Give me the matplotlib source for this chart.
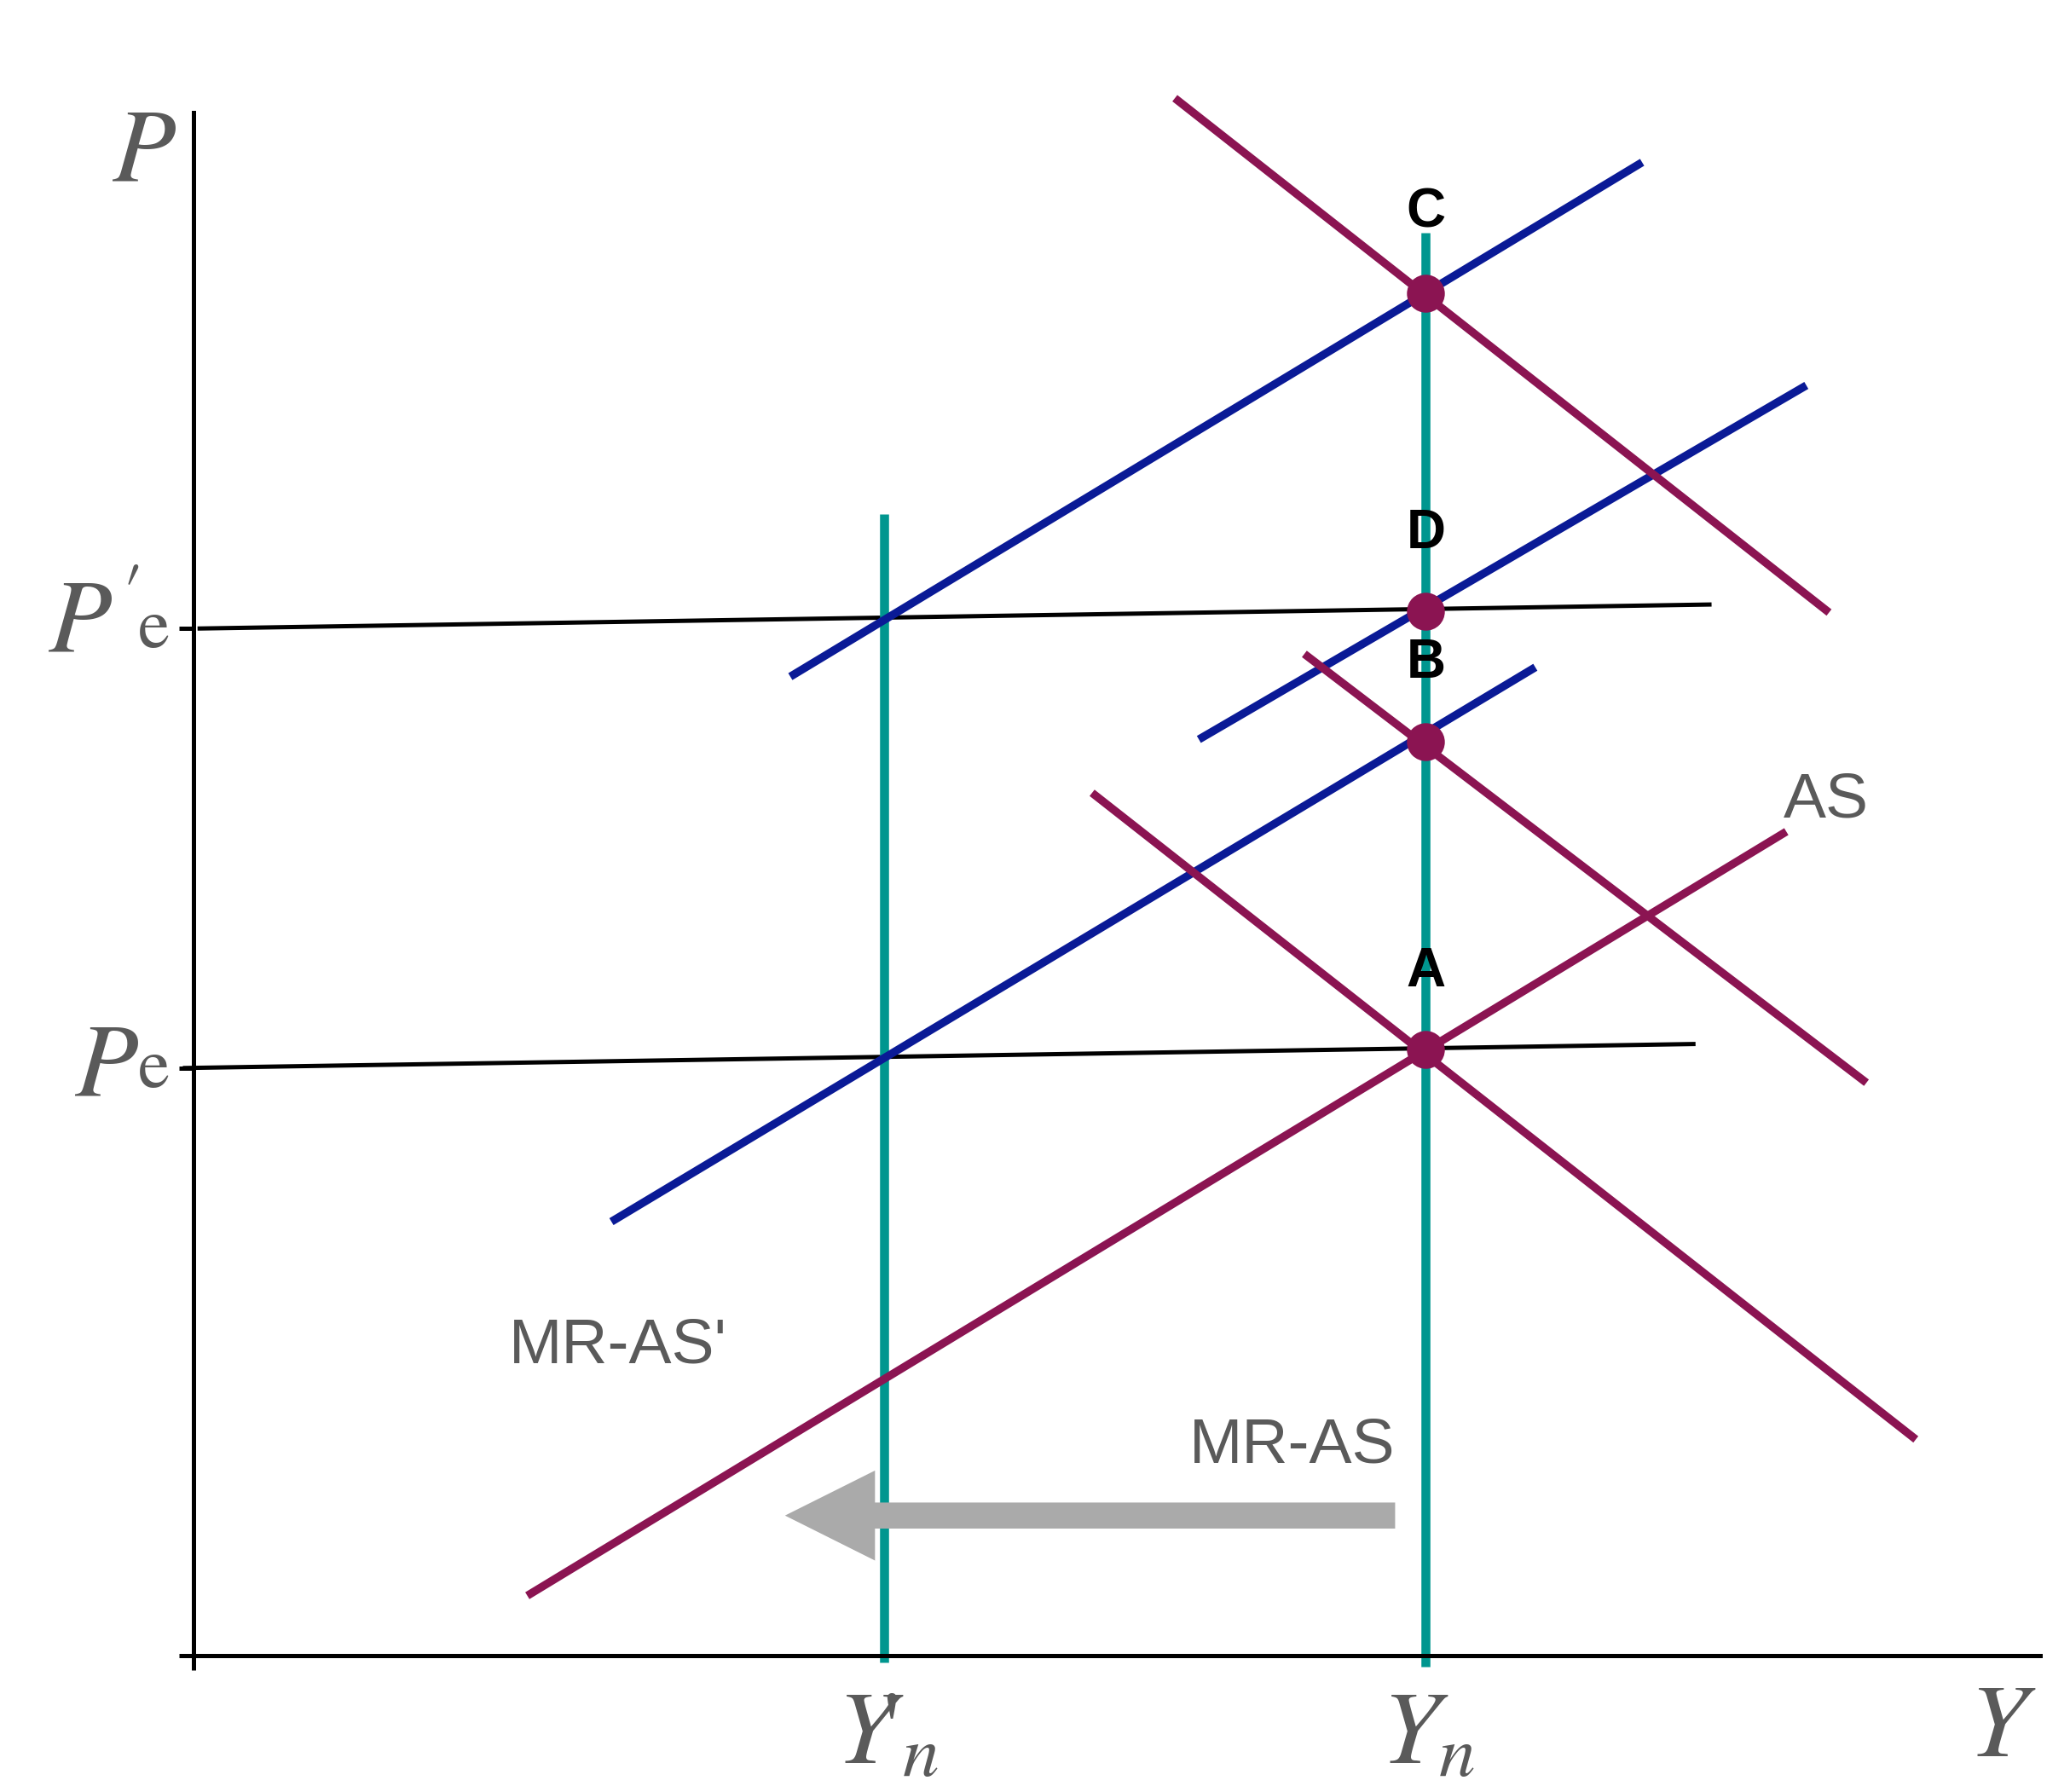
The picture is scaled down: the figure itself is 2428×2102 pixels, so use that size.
import matplotlib.pyplot as plt

crimson = '#8B1452'
blue = '#0A1A96'
teal = '#00968F'
gray = '#5a5a5a'

# line endpoints (x0, y0, x1, y1) in chart units
yn_line = (923, -8, 923, 1065)
yn_new_line = (517, -5, 517, 855)
pe_line = (-8, 440, 1125, 458)
pe_new_line = (3, 769, 1137, 787)
as_line = (250, 45, 1193, 617)
blue_lines = [(313, 325, 1005, 740), (753, 686, 1208, 951), (447, 733, 1085, 1118)]
crimson_lines = [(673, 646, 1290, 162), (832, 750, 1253, 429), (735, 1166, 1225, 781)]
points = {'A': (923, 454), 'B': (923, 684), 'D': (923, 782), 'C': (923, 1020)}
label_y = {'A': 512, 'B': 743, 'D': 840, 'C': 1080}

plt.rcParams['font.family'] = ['Liberation Sans', 'DejaVu Sans']
plt.rcParams['mathtext.fontset'] = 'stix'

fig = plt.figure(figsize=(12.14, 10.51), dpi=200)
ax = fig.add_axes([0.0935, 0.076, 0.892, 0.861])
ax.set_xlim(0, 1383)
ax.set_ylim(0, 1155)

lw = 3.4
def seg(s, c, w=lw):
    ax.plot([s[0], s[2]], [s[1], s[3]], color=c, lw=w, clip_on=False, solid_capstyle='butt')

seg(pe_line, 'black', 1.8)
seg(pe_new_line, 'black', 1.8)
seg(yn_line, teal, 3.8)
seg(yn_new_line, teal, 3.8)
seg(as_line, crimson)
for s in blue_lines:
    seg(s, blue)
for s in crimson_lines:
    seg(s, crimson)

for k, (x, y) in points.items():
    ax.plot(x, y, 'o', color=crimson, ms=15, zorder=5)
    ax.text(x, label_y[k], k, ha='center', va='center', fontsize=23, fontweight='bold')

ax.annotate('', xy=(443, 105), xytext=(900, 105),
            arrowprops=dict(facecolor='#aaaaaa', edgecolor='none', width=11, headwidth=38, headlength=38))

ax.text(1223, 640, 'AS', fontsize=27, color=gray, ha='center', va='center')
ax.text(318, 232, "MR-AS'", fontsize=27, color=gray, ha='center', va='center')
ax.text(823, 157, 'MR-AS', fontsize=27, color=gray, ha='center', va='center')

for spine in ['top', 'right']:
    ax.spines[spine].set_visible(False)
ax.spines['left'].set_linewidth(1.8)
ax.spines['bottom'].set_linewidth(1.8)
ax.set_xticks([0])
ax.set_yticks([0, 440, 769])
ax.set_xticklabels([])
ax.set_yticklabels([])
ax.tick_params(length=6, width=1.8)

big = dict(fontsize=44, color=gray, ha='center', va='center', clip_on=False)
small = dict(fontsize=30, color=gray, ha='center', va='center', clip_on=False)
ax.text(-37, 1125, r'$P$', **big)
ax.text(-75, 772, r"$P'$", **big)
ax.text(-30, 769, r'$\mathrm{e}$', **small)
ax.text(-65, 440, r'$P$', **big)
ax.text(-30, 440, r'$\mathrm{e}$', **small)
ax.text(520, -60, r"$Y\!'_n$", **big)
ax.text(925, -60, r'$Y_n$', **big)
ax.text(1355, -55, r'$Y$', **big)

plt.savefig('out.png')
